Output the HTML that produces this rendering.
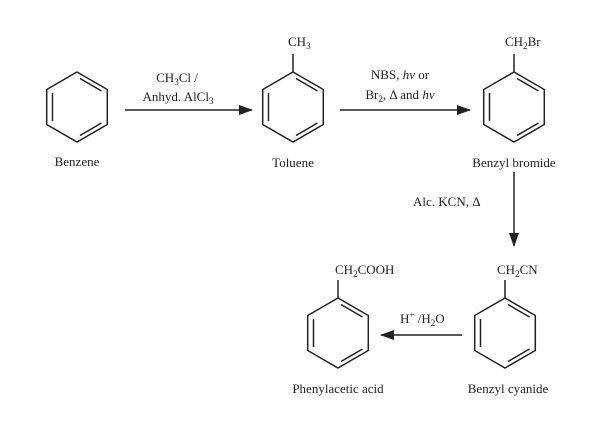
<!DOCTYPE html>
<html><head><style>body{margin:0;background:#fff}svg{display:block}text{font-family:"Liberation Serif",serif;font-size:13px;fill:#222}</style></head><body>
<svg width="612" height="422" viewBox="0 0 612 422">
<defs>
<g id="ring" fill="none" stroke="#222" stroke-width="1.5">
<polygon points="0,-35 30.3,-17.5 30.3,17.5 0,35 -30.3,17.5 -30.3,-17.5"/>
<line x1="3" y1="-28.5" x2="24.5" y2="-16"/>
<line x1="24.5" y1="16" x2="3" y2="28.5"/>
<line x1="-24.5" y1="-14" x2="-24.5" y2="14"/>
</g>
<marker id="ah" markerWidth="14" markerHeight="10" refX="13" refY="5" orient="auto" markerUnits="userSpaceOnUse"><polygon points="0,0 14,5 0,10" fill="#222"/></marker>
</defs>
<g stroke="#222" stroke-width="1.5">
<line x1="293" y1="72" x2="293" y2="54"/>
<line x1="514" y1="72" x2="514" y2="54"/>
<line x1="505" y1="298" x2="505" y2="280"/>
<line x1="338" y1="298" x2="338" y2="280"/>
<line x1="125" y1="110" x2="252" y2="110" marker-end="url(#ah)"/>
<line x1="340" y1="110" x2="470" y2="110" marker-end="url(#ah)"/>
<line x1="514" y1="172" x2="514" y2="246" marker-end="url(#ah)"/>
<line x1="462" y1="335" x2="381" y2="335" marker-end="url(#ah)"/>
</g>
<use href="#ring" x="77" y="107"/>
<use href="#ring" x="293" y="107"/>
<use href="#ring" x="514" y="107"/>
<use href="#ring" x="505" y="333"/>
<use href="#ring" x="338" y="333"/>
<text x="77" y="166" text-anchor="middle">Benzene</text>
<text x="293" y="167" text-anchor="middle">Toluene</text>
<text x="514" y="167" text-anchor="middle">Benzyl bromide</text>
<text x="508" y="393" text-anchor="middle">Benzyl cyanide</text>
<text x="338" y="393" text-anchor="middle">Phenylacetic acid</text>
<text x="288" y="46">CH<tspan font-size="9" dy="3">3</tspan></text>
<text x="505" y="46">CH<tspan font-size="9" dy="3">2</tspan><tspan dy="-3">Br</tspan></text>
<text x="497" y="274">CH<tspan font-size="9" dy="3">2</tspan><tspan dy="-3">CN</tspan></text>
<text x="335" y="274">CH<tspan font-size="9" dy="3">2</tspan><tspan dy="-3">COOH</tspan></text>
<text x="177" y="82" text-anchor="middle">CH<tspan font-size="9" dy="3">3</tspan><tspan dy="-3">Cl /</tspan></text>
<text x="178" y="101" text-anchor="middle">Anhyd. AlCl<tspan font-size="9" dy="3">3</tspan></text>
<text x="400" y="79" text-anchor="middle">NBS, <tspan font-style="italic">hν</tspan> or</text>
<text x="400" y="99" text-anchor="middle">Br<tspan font-size="9" dy="3">2</tspan><tspan dy="-3">, Δ and </tspan><tspan font-style="italic">hν</tspan></text>
<text x="413" y="206">Alc. KCN, Δ</text>
<text x="400" y="323">H<tspan font-size="9" dy="-5">+</tspan><tspan dy="5"> /H</tspan><tspan font-size="9" dy="3">2</tspan><tspan dy="-3">O</tspan></text>
</svg>
</body></html>
